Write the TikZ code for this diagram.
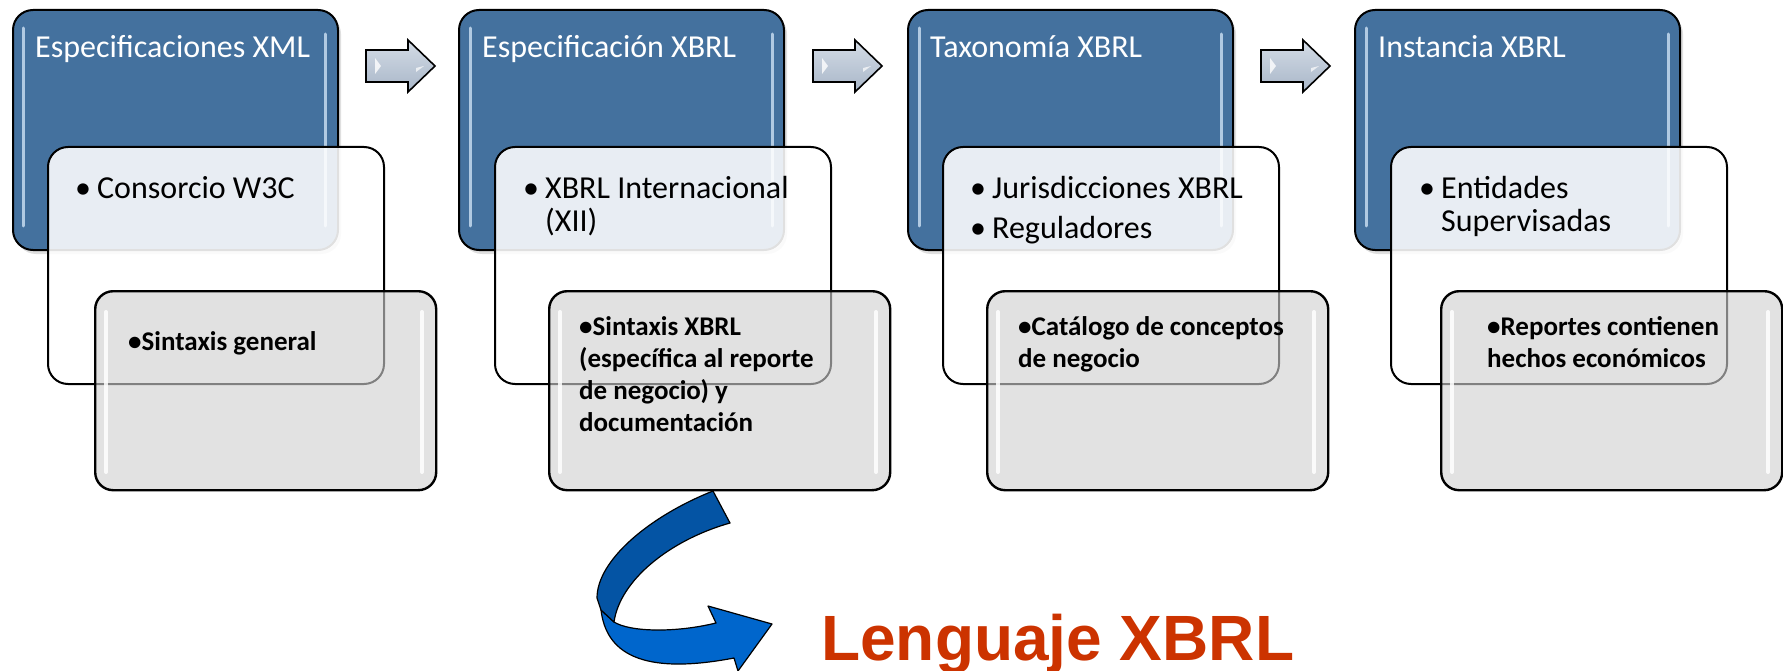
\documentclass[tikz,border=0pt]{standalone}
\usepackage{fontspec}
\setmainfont{Carlito}
\newfontfamily\arialfont{Liberation Sans}
\usetikzlibrary{shadows}
\definecolor{boxblue}{RGB}{68,113,158}
\definecolor{hlblue}{RGB}{205,225,244}
\definecolor{grayfill}{RGB}{208,208,208}
\definecolor{arrtop}{RGB}{212,220,230}
\definecolor{arrbot}{RGB}{168,182,200}
\definecolor{darkarr}{RGB}{4,84,164}
\definecolor{lightarr}{RGB}{0,102,204}
\definecolor{langred}{RGB}{204,51,0}
\begin{document}
\begin{tikzpicture}[x=1pt,y=-1pt,
  bluebox/.style={draw=black, line width=2pt, fill=boxblue, rounded corners=20pt, anchor=north west,
    minimum width=325pt, minimum height=240pt, inner sep=0pt,
    drop shadow={shadow xshift=3pt, shadow yshift=-4pt, opacity=0.25}},
  whitebox/.style={draw=black, line width=2pt, fill=white, fill opacity=0.88, rounded corners=20pt,
    anchor=north west, minimum width=336pt, minimum height=237pt, inner sep=0pt},
  graybox/.style={draw=black, line width=2.4pt, fill=grayfill, fill opacity=0.62, rounded corners=18pt,
    anchor=north west, minimum width=341pt, minimum height=199pt, inner sep=0pt},
  bhl/.style={line width=3pt, draw=hlblue, line cap=round, opacity=0.8},
  ghl/.style={line width=4pt, draw=white, line cap=round, opacity=0.85},
  titletext/.style={anchor=base west, inner sep=0pt, text=white, font=\fontsize{32}{34}\selectfont},
  wtext/.style={anchor=base west, inner sep=0pt, text=black, font=\fontsize{32}{33}\selectfont},
  gtext/.style={anchor=base west, inner sep=0pt, text=black, font=\fontsize{27}{32}\selectfont\bfseries},
  smallarr/.style={draw=black, line width=1.6pt, top color=arrtop, bottom color=arrbot, line join=miter},
  curvarr/.style={draw=black, line width=1.2pt, line join=round},
  langtext/.style={anchor=base west, inner sep=0pt, text=langred, font=\arialfont\bfseries\fontsize{64}{70}\selectfont}
]
\useasboundingbox (0,0) rectangle (1783,671);
\newcommand{\wb}{\leavevmode\llap{\makebox[22pt][l]{•}}}

% ---------- column 1 ----------
\node[bluebox] (b1) at (12,9) {};
\draw[bhl] (23,28) -- (23,226); \draw[bhl] (325,34) -- (325,226);
\node[titletext] (t1) at (35,58) {Especificaciones XML};
\node[whitebox] (w1) at (47,146) {};
\node[wtext] (wt1) at (97,199) {\parbox[t]{270pt}{\wb Consorcio W3C}};
\node[graybox] (g1) at (94,290) {};
\draw[ghl] (106,312) -- (106,472); \draw[ghl] (422,312) -- (422,472);
\node[gtext] (gt1) at (128,350) {\parbox[t]{300pt}{•Sintaxis general}};

% ---------- column 2 ----------
\node[bluebox] (b2) at (458,9) {};
\draw[bhl] (470,28) -- (470,226); \draw[bhl] (772,34) -- (772,226);
\node[titletext] (t2) at (482,58) {Especificación XBRL};
\node[whitebox] (w2) at (494,146) {};
\node[wtext] (wt2) at (545,199) {\parbox[t]{270pt}{\wb XBRL Internacional\\(XII)}};
\node[graybox] (g2) at (548,290) {};
\draw[ghl] (560,312) -- (560,472); \draw[ghl] (876,312) -- (876,472);
\node[gtext] (gt2) at (579,335) {\parbox[t]{300pt}{•Sintaxis XBRL\\(específica al reporte\\de negocio) y\\documentación}};

% ---------- column 3 ----------
\node[bluebox] (b3) at (907,9) {};
\draw[bhl] (919,28) -- (919,226); \draw[bhl] (1221,34) -- (1221,226);
\node[titletext] (t3) at (930,58) {Taxonomía XBRL};
\node[whitebox] (w3) at (942,146) {};
\node[wtext] (wt3) at (992,199) {\parbox[t]{270pt}{\wb Jurisdicciones XBRL\\[7pt]\wb Reguladores}};
\node[graybox] (g3) at (986,290) {};
\draw[ghl] (998,312) -- (998,472); \draw[ghl] (1314,312) -- (1314,472);
\node[gtext] (gt3) at (1018,335) {\parbox[t]{300pt}{•Catálogo de conceptos\\de negocio}};

% ---------- column 4 ----------
\node[bluebox] (b4) at (1354,9) {};
\draw[bhl] (1366,28) -- (1366,226); \draw[bhl] (1668,34) -- (1668,226);
\node[titletext] (t4) at (1378,58) {Instancia XBRL};
\node[whitebox] (w4) at (1390,146) {};
\node[wtext] (wt4) at (1441,199) {\parbox[t]{270pt}{\wb Entidades\\Supervisadas}};
\node[graybox] (g4) at (1440,290) {};
\draw[ghl] (1452,312) -- (1452,472); \draw[ghl] (1768,312) -- (1768,472);
\node[gtext] (gt4) at (1487,335) {\parbox[t]{290pt}{•Reportes contienen\\hechos económicos}};

% ---------- small block arrows ----------
\foreach \a in {366,813,1261} {
  \draw[smallarr] (\a,50) -- ++(42,0) -- ++(0,-10) -- ++(27,26) -- ++(-27,26) -- ++(0,-10) -- ++(-42,0) -- cycle;
  \fill[white, opacity=0.8] (\a+9,58) -- (\a+15,66) -- (\a+9,74) -- cycle;
  \fill[white, opacity=0.7] (\a+50,68) -- (\a+58,66) -- (\a+50,72) -- cycle;
}

% ---------- curved arrow ----------
\draw[curvarr, fill=lightarr] (601,610) .. controls (606,652) and (640,676) .. (734,658)
  -- (738,671) -- (772,624) -- (708,606) -- (716,623)
  .. controls (675,633) and (630,632) .. (614,622) -- cycle;
\draw[curvarr, fill=darkarr] (713,491) .. controls (650,516) and (597,560) .. (597,598)
  -- (601,610) -- (614,622) .. controls (620,580) and (670,540) .. (730,523) -- cycle;

\node[langtext] (lang) at (821,660) {Lenguaje XBRL};
\end{tikzpicture}
\end{document}
